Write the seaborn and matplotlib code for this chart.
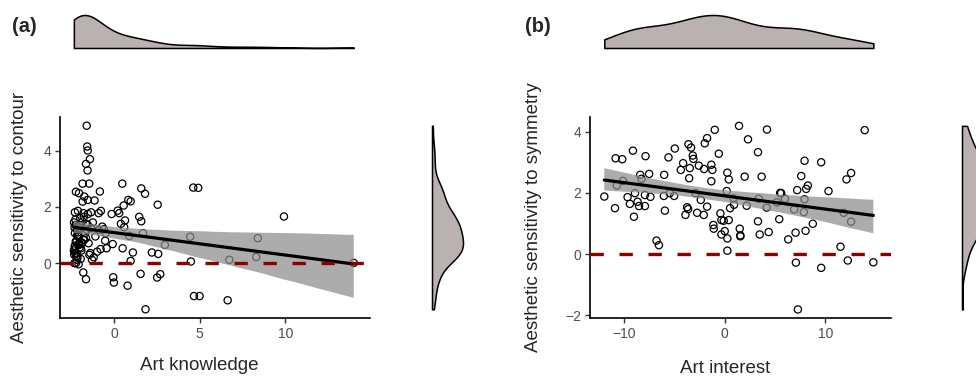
import numpy as np
import matplotlib
matplotlib.use("Agg")
import matplotlib.pyplot as plt
import seaborn as sns

# panel (a): art knowledge vs sensitivity to contour
knowledge = [-1.61, -1.58, -1.55, -1.42, -1.65, -1.56, -1.85, -1.46, -2.24, -2.06,
             -0.84, -1.75, -1.85, -1.55, -1.15, -2.30, -2.12, -1.80, -1.54, -1.36,
             -0.91, -0.78, -0.15, 0.20, 0.29, 0.47, 0.55, 0.82, 0.96, 0.63,
             0.39, 0.58, 1.58, 1.80, 2.54, 1.46, 1.58, 1.68, 0.88, 2.96,
             1.09, 2.20, 2.57, 0.96, 0.49, -0.09, -0.53, -0.06, -0.02, 0.78,
             1.54, 2.51, 2.69, 1.83, -1.81, -1.65, 4.62, 4.91, 4.44, 4.48,
             4.66, 4.99, 6.73, 6.63, 9.92, 8.39, 8.30, 14.00,
             -2.36, -2.30, -2.25, -2.20, -2.30, -2.18, -2.32, -2.10, -2.05, -1.95,
             -2.28, -2.15, -2.22, -2.34, -1.90, -1.80, -1.70, -1.60, -2.12, -2.26,
             -2.02, -1.98, -1.85, -1.75, -1.50, -1.40, -1.20, -1.30, -2.24, -2.08,
             -1.65, -1.10, -0.90, -0.70, -0.50, -0.60, -2.14, -2.20, -1.88, -1.00,
             -0.80, -0.45, -1.55, -1.25, -2.33, -2.30, -2.18, -2.06, -1.92, -1.45,
             -2.10, -2.27, -2.35, -1.78, -1.62, -1.35, -2.16, -1.96, -2.31, -2.04]
contour = [4.89, 4.15, 4.01, 3.70, 3.53, 3.30, 2.83, 2.83, 2.54, 2.49,
           2.55, 2.37, 2.19, 2.25, 2.23, 1.81, 1.86, 1.78, 1.75, 1.81,
           1.78, 1.86, 1.75, 1.87, 1.78, 2.83, 2.05, 2.25, 2.20, 1.52,
           1.40, 1.28, 2.66, 2.47, 2.08, 1.65, 1.49, 1.07, 0.97, 0.65,
           0.38, 0.38, 0.33, 0.08, 0.53, 0.68, 0.80, -0.50, -0.69, -0.80,
           -0.38, -0.51, -0.39, -1.64, -0.33, -0.57, 2.69, 2.68, 0.94, 0.06,
           -1.17, -1.17, 0.12, -1.32, 1.66, 0.89, 0.22, 0.01,
           0.45, 0.59, 0.77, 0.36, 1.07, 1.19, 1.27, 0.95, 0.71, 0.53,
           0.36, 0.21, 0.24, 0.30, 0.71, 0.83, 1.07, 1.19, 1.30, 1.36,
           1.36, 1.60, 1.48, 0.83, 0.71, 0.36, 0.21, 0.12, 0.00, -0.04,
           0.89, 0.95, 1.19, 1.30, 1.07, 1.21, 0.95, 0.77, 0.73, 0.41,
           0.50, 0.53, 1.36, 1.45, 0.00, 0.62, 0.12, 0.65, 0.45, 0.30,
           1.10, 1.55, 1.45, 1.65, 1.40, 1.25, 1.00, 0.15, 0.50, 0.55]

# panel (b): art interest vs sensitivity to symmetry
interest = [-11.95, -10.83, -10.17, -10.89, -10.70, -10.10, -9.11, -7.86, -7.50, -8.39,
            -8.26, -9.64, -9.41, -8.91, -8.65, -8.51, -9.01, -7.92, -7.92, -7.37,
            -6.77, -6.53, -6.01, -6.04, -5.94, -5.58, -5.45, -5.02, -4.95, -4.36,
            -4.13, -3.60, -3.34, -3.17, -3.11, -3.47, -3.53, -3.73, -3.63, -3.90,
            -2.91, -2.57, -2.74, -2.38, -2.08, -2.05, -1.98, -1.75, -1.75, -1.33,
            -1.23, -1.33, -0.99, -0.59, -0.43, -1.13, -1.09, -0.33, -0.10, 0.00,
            -0.33, 0.26, 0.26, 0.20, 0.26, 0.40, 0.40, 0.53, 0.86, 0.92,
            1.42, 1.49, 1.55, 1.55, 1.98, 2.18, 2.31, 3.30, 3.30, 3.47,
            3.37, 3.66, 4.16, 4.19, 4.36, 5.18, 5.41, 5.50, 5.60, 5.97,
            6.30, 6.89, 7.03, 7.06, 7.19, 7.26, 7.59, 7.85, 7.92, 7.92,
            8.02, 8.08, 8.25, 8.74, 9.57, 9.57, 10.30, 11.49, 11.81, 12.08,
            12.21, 12.54, 12.54, 13.89, 14.75]
symmetry = [1.88, 3.13, 3.10, 1.50, 2.24, 2.39, 3.38, 3.20, 2.62, 2.59,
            2.46, 1.86, 1.64, 1.99, 1.71, 1.57, 1.22, 1.93, 1.57, 1.87,
            0.44, 0.29, 2.59, 1.90, 1.42, 3.16, 1.99, 1.90, 3.45, 2.75,
            2.97, 3.59, 3.48, 3.22, 3.11, 2.81, 2.48, 1.53, 1.47, 1.28,
            1.99, 2.89, 1.35, 1.77, 1.28, 2.78, 3.62, 3.79, 1.55, 2.92,
            2.75, 2.38, 4.06, 3.28, 1.33, 0.95, 0.83, 1.11, 1.09, 0.75,
            0.64, 0.51, 0.11, 2.06, 2.66, 2.44, 1.11, 1.50, 1.82, 1.61,
            4.19, 0.83, 0.61, 0.58, 2.53, 1.58, 3.75, 3.33, 1.07, 0.64,
            1.81, 2.53, 1.52, 4.07, 0.72, 1.69, 1.14, 2.00, 1.99, 1.81,
            0.48, 1.46, 0.70, -0.28, 2.09, -1.81, 2.55, 1.37, 1.79, 3.05,
            0.76, 2.13, 2.24, 0.99, 3.00, -0.45, 2.06, 0.24, 1.35, 2.44,
            -0.21, 2.65, 1.06, 4.05, -0.27]

sns.set_style("white")
plt.rcParams["font.family"] = ["Liberation Sans", "DejaVu Sans"]

W, H = 976, 376
MARGIN_FILL = "#bab1b0"
fig = plt.figure(figsize=(W / 100, H / 100), dpi=100)


def add_box(left, top, width, height):
    # boxes given in pixels from the top-left corner
    return fig.add_axes([left / W, 1 - (top + height) / H, width / W, height / H])


def nrd0_adjust(v):
    # make seaborn's scott bandwidth behave like R's bw.nrd0
    v = np.asarray(v)
    sd = v.std(ddof=1)
    iqr = np.subtract(*np.percentile(v, [75, 25]))
    return 0.9 * min(sd, iqr / 1.34) / sd


def draw_panel(x, y, left, width, xlim, ylim, xticks, yticks, xlabel, ylabel,
               tag, tag_x, ylab_x, xlab_y, right_left, top_bw=1.0):
    ax = add_box(left, 117, width, 201)
    sns.scatterplot(x=x, y=y, ax=ax, s=27, facecolor="none", edgecolor="black",
                    linewidth=0.9, zorder=2)
    sns.regplot(x=x, y=y, ax=ax, scatter=False, ci=95, seed=3, color="black",
                line_kws={"lw": 2.3, "zorder": 3})
    band = ax.collections[-1]
    band.set_alpha(0.72)
    band.set_facecolor("#8c8c8c")
    band.set_edgecolor("none")
    band.set_zorder(2.5)
    ax.axhline(0, color="#8b0000", lw=2.4, dashes=(4, 4.7), zorder=4)

    ax.set_xlim(xlim)
    ax.set_ylim(ylim)
    ax.set_xticks(xticks)
    ax.set_yticks(yticks)
    sns.despine(ax=ax)
    for s in ["left", "bottom"]:
        ax.spines[s].set_linewidth(1.2)
        ax.spines[s].set_color("black")
    ax.tick_params(labelsize=10, labelcolor="#4d4d4d", color="#333333",
                   length=3.5, width=1, pad=3, left=True, bottom=True)
    ax.set_xlabel(xlabel, fontsize=13.5)
    ax.set_ylabel(ylabel, fontsize=13.5)
    ax.xaxis.set_label_coords(0.45, xlab_y)
    ax.yaxis.set_label_coords(ylab_x, 0.5)

    # marginal density on top
    ax_top = add_box(left, 15, width, 33)
    ax_top.margins(x=0, y=0)
    sns.kdeplot(x=x, ax=ax_top, fill=True, cut=0, bw_adjust=nrd0_adjust(x) * top_bw,
                facecolor=MARGIN_FILL, edgecolor="black", linewidth=1.1, alpha=1)
    ax_top.set_xlim(xlim)
    ax_top.set_ylim(bottom=0)
    ax_top.axis("off")
    for c in ax_top.collections:
        c.set_clip_on(False)

    # marginal density on the right
    ax_r = add_box(right_left, 117, 31, 201)
    ax_r.margins(x=0, y=0)
    sns.kdeplot(y=y, ax=ax_r, fill=True, cut=0, bw_adjust=nrd0_adjust(y),
                facecolor=MARGIN_FILL, edgecolor="black", linewidth=1.1, alpha=1)
    ax_r.set_ylim(ylim)
    ax_r.set_xlim(left=0)
    ax_r.axis("off")
    for c in ax_r.collections:
        c.set_clip_on(False)

    fig.text(tag_x / W, 1 - 26 / H, tag, ha="left", va="center",
             fontsize=14.5, fontweight="bold")


draw_panel(knowledge, contour, 60, 310, (-3.17, 14.95), (-1.95, 5.2),
           [0, 5, 10], [0, 2, 4], "Art knowledge",
           "Aesthetic sensitivity to contour", "(a)", 12, -0.103, -0.194, 432,
           top_bw=1.5)
draw_panel(interest, symmetry, 590, 301, (-13.37, 16.5), (-2.09, 4.48),
           [-10, 0, 10], [-2, 0, 2, 4], "Art interest",
           "Aesthetic sensitivity to symmetry", "(b)", 525, -0.161, -0.209, 962)

fig.savefig("out.png", dpi=100)
